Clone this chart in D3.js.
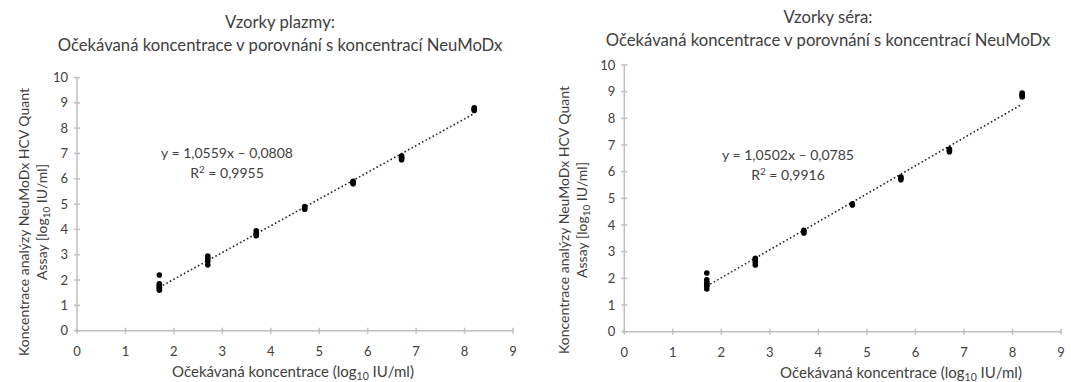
<!DOCTYPE html>
<html>
<head>
<meta charset="utf-8">
<script src="https://cdn.jsdelivr.net/npm/d3@7"></script>
<style>
  body { margin: 0; background: #fff; }
  text { font-family: Lato, "Open Sans", sans-serif; fill: #404040; }
</style>
</head>
<body>
<div id="chart"></div>
<script>
// axis ticks
const xTicks = [0, 1, 2, 3, 4, 5, 6, 7, 8, 9];
const yTicks = [0, 1, 2, 3, 4, 5, 6, 7, 8, 9, 10];

// plasma samples (expected vs measured, log10 IU/ml)
const plasmaExpected = [1.7, 1.7, 1.7, 1.7, 1.7, 1.7, 1.7,
  2.7, 2.7, 2.7, 2.7, 3.7, 3.7, 3.7, 3.7, 4.7, 4.7, 4.7,
  5.7, 5.7, 5.7, 6.7, 6.7, 6.7, 6.7, 8.2, 8.2, 8.2];
const plasmaMeasured = [2.2, 1.85, 1.8, 1.75, 1.7, 1.65, 1.6,
  2.95, 2.85, 2.75, 2.6, 3.95, 3.85, 3.8, 3.75, 4.9, 4.85, 4.8,
  5.9, 5.85, 5.8, 6.9, 6.85, 6.8, 6.75, 8.8, 8.75, 8.7];
const plasmaFit = [1.0559, -0.0808, 0.9955];

// serum samples
const serumExpected = [1.7, 1.7, 1.7, 1.7, 1.7, 1.7, 1.7,
  2.7, 2.7, 2.7, 2.7, 3.7, 3.7, 3.7, 4.7, 4.7,
  5.7, 5.7, 5.7, 6.7, 6.7, 6.7, 8.2, 8.2, 8.2, 8.2];
const serumMeasured = [2.2, 1.95, 1.85, 1.8, 1.75, 1.7, 1.6,
  2.75, 2.7, 2.6, 2.5, 3.8, 3.75, 3.7, 4.8, 4.75,
  5.8, 5.75, 5.7, 6.85, 6.8, 6.75, 8.95, 8.9, 8.85, 8.8];
const serumFit = [1.0502, -0.0785, 0.9916];

const titles = ["Vzorky plazmy:", "Vzorky séra:"];
const subtitle = "Očekávaná koncentrace v porovnání s koncentrací NeuMoDx";

const width = 1071, height = 382;
const axisColor = "#bfbfbf";

const svg = d3.select("#chart").append("svg")
  .attr("width", width)
  .attr("height", height);

const fmt = v => v.toFixed(4).replace(".", ",");

function drawPanel(p) {
  const x = d3.scaleLinear().domain([0, 9]).range([p.left, p.right]);
  const y = d3.scaleLinear().domain([0, 10]).range([p.bottom, p.top]);
  const g = svg.append("g");

  // title, two lines
  const t = g.append("text")
    .attr("x", p.titleX).attr("y", p.titleY)
    .attr("text-anchor", "middle")
    .style("font-size", "16.7px");
  t.append("tspan").attr("x", p.titleX).text(p.title);
  t.append("tspan").attr("x", p.titleX).attr("dy", 23).text(subtitle);

  // axes lines
  g.append("line")
    .attr("x1", x(0)).attr("x2", x(9))
    .attr("y1", y(0)).attr("y2", y(0))
    .attr("stroke", axisColor).attr("stroke-width", 1.5);
  g.append("line")
    .attr("x1", x(0)).attr("x2", x(0))
    .attr("y1", y(0)).attr("y2", y(10))
    .attr("stroke", axisColor).attr("stroke-width", 1.5);

  // ticks cross the axis
  g.selectAll(".xt").data(xTicks).join("line")
    .attr("x1", d => x(d)).attr("x2", d => x(d))
    .attr("y1", y(0) - 3).attr("y2", y(0) + 3)
    .attr("stroke", axisColor).attr("stroke-width", 1.5);
  g.selectAll(".yt").data(yTicks).join("line")
    .attr("x1", x(0) - 3).attr("x2", x(0) + 3)
    .attr("y1", d => y(d)).attr("y2", d => y(d))
    .attr("stroke", axisColor).attr("stroke-width", 1.5);

  g.selectAll(".xl").data(xTicks).join("text")
    .attr("x", d => x(d)).attr("y", y(0) + 25)
    .attr("text-anchor", "middle")
    .style("font-size", "13px")
    .text(d => d);
  g.selectAll(".yl").data(yTicks).join("text")
    .attr("x", x(0) - 9).attr("y", d => y(d) + 4.5)
    .attr("text-anchor", "end")
    .style("font-size", "13px")
    .text(d => d);

  // x axis title
  const xt = g.append("text")
    .attr("x", p.xTitleX).attr("y", y(0) + 46)
    .attr("text-anchor", "middle")
    .style("font-size", "15px");
  xt.append("tspan").text("Očekávaná koncentrace (log");
  xt.append("tspan").style("font-size", "10.5px").attr("dy", 3).text("10");
  xt.append("tspan").attr("dy", -3).text(" IU/ml)");

  // y axis title, rotated
  const yt = g.append("text")
    .attr("transform", `translate(${p.yTitleX},${p.yTitleY}) rotate(-90)`)
    .attr("text-anchor", "middle")
    .style("font-size", "14px");
  yt.append("tspan").attr("x", 0).attr("y", 0).text("Koncentrace analýzy NeuMoDx HCV Quant");
  yt.append("tspan").attr("x", 0).attr("y", 18).text("Assay [log");
  yt.append("tspan").style("font-size", "10px").attr("dy", 3).text("10");
  yt.append("tspan").attr("dy", -3).text(" IU/ml]");

  // trendline
  const [a, b, r2] = p.fit;
  const x0 = d3.min(p.xs), x1 = d3.max(p.xs);
  g.append("line")
    .attr("x1", x(x0)).attr("y1", y(a * x0 + b))
    .attr("x2", x(x1)).attr("y2", y(a * x1 + b))
    .attr("stroke", "#262626")
    .attr("stroke-width", 1.6)
    .attr("stroke-dasharray", "1.6,2.4");

  // points
  g.selectAll("circle").data(p.xs).join("circle")
    .attr("cx", d => x(d))
    .attr("cy", (d, i) => y(p.ys[i]))
    .attr("r", 2.8)
    .attr("fill", "#000");

  // equation
  g.append("text")
    .attr("x", p.eqX).attr("y", p.eqY)
    .attr("text-anchor", "middle")
    .style("font-size", "14px")
    .text(`y = ${fmt(a)}x – ${fmt(-b)}`);
  const rt = g.append("text")
    .attr("x", p.eqX).attr("y", p.eqY + 20)
    .attr("text-anchor", "middle")
    .style("font-size", "14px");
  rt.append("tspan").text("R");
  rt.append("tspan").style("font-size", "10px").attr("dy", -5).text("2");
  rt.append("tspan").attr("dy", 5).text(` = ${fmt(r2)}`);
}

drawPanel({
  title: titles[0], xs: plasmaExpected, ys: plasmaMeasured, fit: plasmaFit,
  left: 77, right: 513, top: 77.5, bottom: 330.7,
  titleX: 280, titleY: 28, xTitleX: 293, yTitleX: 29, yTitleY: 222,
  eqX: 227, eqY: 158
});
drawPanel({
  title: titles[1], xs: serumExpected, ys: serumMeasured, fit: serumFit,
  left: 624.3, right: 1061, top: 65, bottom: 331.7,
  titleX: 828, titleY: 23, xTitleX: 901, yTitleX: 569, yTitleY: 220,
  eqX: 788, eqY: 160
});
</script>
</body>
</html>
